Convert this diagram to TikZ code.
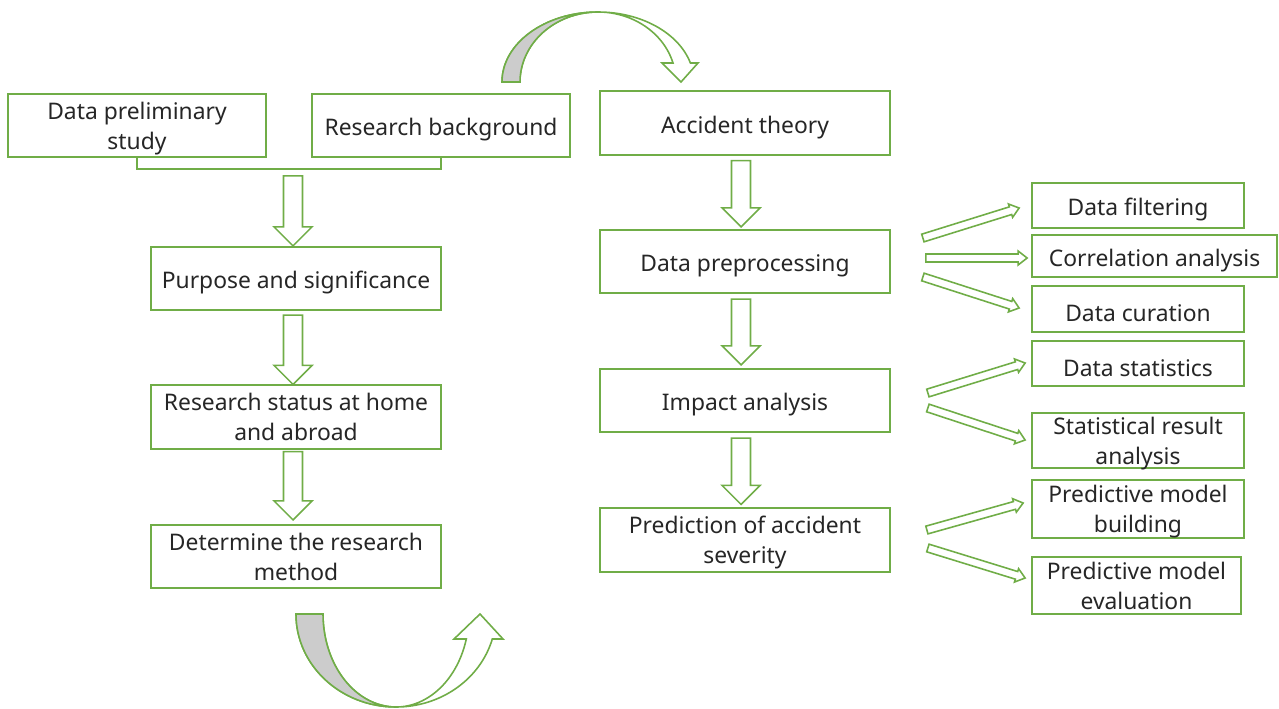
\documentclass[tikz,border=0pt]{standalone}
\usepackage{fontspec}
\setmainfont{Noto Sans}
\usetikzlibrary{calc}

\definecolor{boxgreen}{HTML}{70AD47}
\definecolor{inkgray}{HTML}{262626}

% hollow block arrow: tail, tip, shaft half width, head half width, head length
\newcommand{\hollowarrow}[5]{%
  \coordinate (ha) at (#1);
  \coordinate (hb) at (#2);
  \coordinate (hc) at ($(hb)!#5!(ha)$);
  \draw[arrowline] ($(ha)!#3!90:(hb)$) -- ($(hc)!#3!-90:(ha)$) -- ($(hc)!#4!-90:(ha)$)
    -- (hb) -- ($(hc)!#4!90:(ha)$) -- ($(hc)!#3!90:(ha)$) -- ($(ha)!#3!-90:(hb)$) -- cycle;
}
\newcommand{\bigarrow}[2]{\hollowarrow{#1}{#2}{1.9mm}{3.8mm}{3.8mm}}
\newcommand{\thinarrow}[2]{\hollowarrow{#1}{#2}{0.8mm}{1.4mm}{1.8mm}}

\begin{document}
\begin{tikzpicture}[x=0.2mm,y=0.2mm]
  \tikzset{box/.style={draw=boxgreen,line width=1pt,align=center,inner sep=0pt,
      text=inkgray,font=\fontsize{13}{17}\selectfont}}
  \tikzset{lift/.style={execute at begin node={\rule{0pt}{14.5pt}}}}
  \tikzset{twoline/.style={text depth=0pt}}
  \tikzset{bigbox/.style={box,minimum width=58mm,minimum height=12.7mm}}
  \tikzset{smallbox/.style={box,minimum width=42.4mm}}
  \tikzset{arrowline/.style={draw=boxgreen,line width=0.9pt,fill=white,line join=miter}}
  \useasboundingbox (0,0) rectangle (1279,-708);

  % left column
  \node[box,twoline,minimum width=51.6mm,minimum height=12.6mm] (prelim) at (137,-125.5) {Data preliminary\\study};
  \node[box,lift,minimum width=51.6mm,minimum height=12.6mm] (backgr) at (441,-125.5) {Research background};
  \node[bigbox,lift] (purpose) at (296,-278.5) {Purpose and significance};
  \node[bigbox,twoline] (status) at (296,-417) {Research status at home\\and abroad};
  \node[bigbox,twoline] (method) at (296,-556.5) {Determine the research\\method};

  % middle column
  \node[bigbox,lift] (theory) at (745,-123) {Accident theory};
  \node[bigbox,lift] (preproc) at (745,-261.5) {Data preprocessing};
  \node[bigbox,lift] (impact) at (745,-400.5) {Impact analysis};
  \node[bigbox,twoline] (severity) at (745,-540) {Prediction of accident\\severity};

  % right column
  \node[smallbox,lift,minimum height=9mm] (filter) at (1138,-205.5) {Data filtering};
  \node[box,lift,minimum width=49mm,minimum height=8.4mm] (corr) at (1154.5,-256) {Correlation analysis};
  \node[smallbox,lift,minimum height=9.2mm] (curation) at (1138,-309) {Data curation};
  \node[smallbox,lift,minimum height=9mm] (stats) at (1138,-363.5) {Data statistics};
  \node[smallbox,twoline,minimum height=11mm] (statres) at (1138,-440.5) {Statistical result\\analysis};
  \node[smallbox,twoline,minimum height=11.6mm] (build) at (1138,-509) {Predictive model\\building};
  \node[box,twoline,minimum width=41.8mm,minimum height=11.4mm] (evalu) at (1136.5,-585.5) {Predictive model\\evaluation};

  % bracket joining the two top boxes
  \draw[boxgreen,line width=1pt] (prelim.south) -- ++(0,-11) -| (backgr.south);

  % down arrows
  \bigarrow{$(purpose.north)+(-3,70)$}{$(purpose.north)+(-3,0)$}
  \bigarrow{$(purpose.south)+(-3,-4)$}{$(status.north)+(-3,0)$}
  \bigarrow{$(status.south)+(-3,-2)$}{$(method.north)+(-3,4)$}
  \bigarrow{$(theory.south)+(-4,-5)$}{$(preproc.north)+(-4,2)$}
  \bigarrow{$(preproc.south)+(-4,-5)$}{$(impact.north)+(-4,3)$}
  \bigarrow{$(impact.south)+(-4,-5)$}{$(severity.north)+(-4,3)$}

  % side arrows
  \thinarrow{$(preproc.east)+(32,23.5)$}{$(filter.west)+(-12,-2.5)$}
  \thinarrow{$(preproc.east)+(35,3.5)$}{$(corr.west)+(-4,-2)$}
  \thinarrow{$(preproc.east)+(32,-15.5)$}{$(curation.west)+(-12,1)$}
  \thinarrow{$(impact.east)+(37,7.5)$}{$(stats.west)+(-6,0.5)$}
  \thinarrow{$(impact.east)+(37,-7.5)$}{$(statres.west)+(-6,0.5)$}
  \thinarrow{$(severity.east)+(36,10)$}{$(build.west)+(-8,6)$}
  \thinarrow{$(severity.east)+(37,-8)$}{$(evalu.west)+(-6,7.5)$}

  % curved arrow over the top
  \draw[arrowline] (502,-82) arc[start angle=180,end angle=15.75,x radius=96,y radius=70]
    -- (698,-63) -- (681,-82) -- (662,-63)
    -- (673,-63) arc[start angle=15.75,end angle=180,x radius=78,y radius=70] -- cycle;
  \draw[arrowline,fill=gray!40] (502,-82) arc[start angle=180,end angle=90,x radius=96,y radius=70]
    arc[start angle=90,end angle=180,x radius=78,y radius=70] -- cycle;

  % curved arrow at the bottom
  \draw[arrowline] (296,-614) arc[start angle=180,end angle=344.4,x radius=100,y radius=93]
    -- (503,-639) -- (480,-614) -- (454,-639)
    -- (466.3,-639) arc[start angle=344.4,end angle=180,x radius=73,y radius=93] -- cycle;
  \draw[arrowline,fill=gray!40] (296,-614) arc[start angle=180,end angle=270,x radius=100,y radius=93]
    arc[start angle=270,end angle=180,x radius=73,y radius=93] -- cycle;
\end{tikzpicture}
\end{document}
